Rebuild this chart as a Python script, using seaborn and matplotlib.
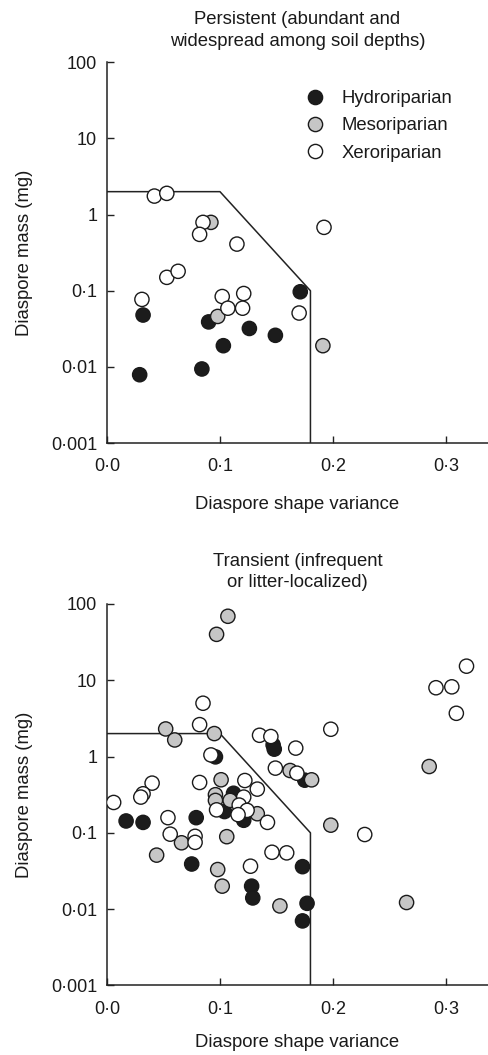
import pandas as pd
import seaborn as sns
import matplotlib.pyplot as plt
from matplotlib.ticker import FixedLocator, FuncFormatter

# Persistent seed bank (top panel)
pers_hydro_x = [0.029, 0.032, 0.084, 0.090, 0.103, 0.126, 0.149, 0.171]
pers_hydro_y = [0.0079, 0.048, 0.0094, 0.039, 0.019, 0.032, 0.026, 0.097]
pers_meso_x = [0.092, 0.098, 0.191]
pers_meso_y = [0.79, 0.046, 0.019]
pers_xero_x = [0.042, 0.053, 0.085, 0.082, 0.115, 0.192, 0.053, 0.063,
               0.031, 0.102, 0.107, 0.121, 0.120, 0.170]
pers_xero_y = [1.75, 1.9, 0.79, 0.55, 0.41, 0.68, 0.15, 0.18,
               0.077, 0.084, 0.059, 0.092, 0.059, 0.051]

# Transient seed bank (bottom panel)
tran_hydro_x = [0.017, 0.032, 0.079, 0.075, 0.096, 0.112, 0.104, 0.121,
                0.147, 0.148, 0.175, 0.128, 0.129, 0.173, 0.177, 0.173]
tran_hydro_y = [0.143, 0.137, 0.158, 0.039, 0.99, 0.33, 0.19, 0.146,
                1.42, 1.25, 0.49, 0.020, 0.014, 0.036, 0.0119, 0.0070]
tran_meso_x = [0.107, 0.097, 0.052, 0.060, 0.095, 0.101, 0.096, 0.096,
               0.109, 0.133, 0.162, 0.181, 0.106, 0.066, 0.044, 0.098,
               0.102, 0.153, 0.198, 0.285, 0.265]
tran_meso_y = [69, 40, 2.3, 1.65, 2.0, 0.496, 0.316, 0.266,
               0.266, 0.178, 0.656, 0.495, 0.089, 0.074, 0.051, 0.033,
               0.020, 0.011, 0.126, 0.74, 0.0122]
tran_xero_x = [0.006, 0.085, 0.082, 0.092, 0.135, 0.145, 0.167, 0.198,
               0.149, 0.168, 0.040, 0.032, 0.030, 0.082, 0.122, 0.133,
               0.121, 0.117, 0.097, 0.124, 0.116, 0.142, 0.054, 0.056,
               0.078, 0.078, 0.146, 0.159, 0.127, 0.228, 0.291, 0.305,
               0.309, 0.318]
tran_xero_y = [0.25, 5.0, 2.62, 1.05, 1.9, 1.83, 1.29, 2.28,
               0.705, 0.605, 0.448, 0.325, 0.294, 0.457, 0.485, 0.374,
               0.294, 0.231, 0.20, 0.197, 0.173, 0.137, 0.158, 0.096,
               0.09, 0.075, 0.0556, 0.0546, 0.0365, 0.095, 7.98, 8.2,
               3.69, 15.3]

# boundary drawn in both panels
boundary_x = [0.0, 0.1, 0.18, 0.18]
boundary_y = [2.0, 2.0, 0.1, 0.001]

groups = ['Hydroriparian', 'Mesoriparian', 'Xeroriparian']
colors = {'Hydroriparian': '#1c1c1c', 'Mesoriparian': '#c6c6c6',
          'Xeroriparian': 'white'}


def make_df(hx, hy, mx, my, xx, xy):
    parts = []
    for g, x, y in zip(groups, [hx, mx, xx], [hy, my, xy]):
        parts.append(pd.DataFrame({'x': x, 'y': y, 'group': g}))
    return pd.concat(parts, ignore_index=True)


pers = make_df(pers_hydro_x, pers_hydro_y, pers_meso_x, pers_meso_y,
               pers_xero_x, pers_xero_y)
tran = make_df(tran_hydro_x, tran_hydro_y, tran_meso_x, tran_meso_y,
               tran_xero_x, tran_xero_y)

sns.set_style('ticks')
plt.rcParams['font.family'] = ['Liberation Sans', 'DejaVu Sans']
plt.rcParams['text.color'] = '#1a1a1a'
plt.rcParams['axes.labelcolor'] = '#1a1a1a'

fig = plt.figure(figsize=(4.88, 10.55), dpi=100)
ax1 = fig.add_axes([0.219, 0.580, 0.781, 0.361])
ax2 = fig.add_axes([0.219, 0.066, 0.781, 0.3615])

fs = 13.3


def dot(v, p):
    if v >= 1:
        return '%g' % v
    return ('%.3f' % v).rstrip('0').replace('.', '\u00b7')


titles = ['Persistent (abundant and\nwidespread among soil depths)',
          'Transient (infrequent\nor litter-localized)']

for ax, df, title, leg, lp in [(ax1, pers, titles[0], True, 15),
                               (ax2, tran, titles[1], False, 12)]:
    ax.plot(boundary_x, boundary_y, color='#222222', lw=1.1, zorder=1)
    sns.scatterplot(data=df, x='x', y='y', hue='group', palette=colors,
                    hue_order=groups, s=105, edgecolor='#1a1a1a',
                    linewidth=1.0, legend=leg, ax=ax, zorder=3)
    ax.set_yscale('log')
    ax.set_xlim(0, 0.337)
    ax.set_ylim(0.001, 100)
    ax.yaxis.set_major_locator(FixedLocator([0.001, 0.01, 0.1, 1, 10, 100]))
    ax.yaxis.set_minor_locator(FixedLocator([]))
    ax.yaxis.set_major_formatter(FuncFormatter(dot))
    ax.xaxis.set_major_locator(FixedLocator([0.0, 0.1, 0.2, 0.3]))
    ax.xaxis.set_major_formatter(FuncFormatter(lambda v, p: ('%.1f' % v).replace('.', '\u00b7')))
    ax.tick_params(direction='in', length=5, width=1.0, labelsize=13,
                   color='#222222', labelcolor='#1a1a1a')
    ax.tick_params(axis='x', pad=11)
    ax.tick_params(axis='y', pad=7)
    for side in ['top', 'right']:
        ax.spines[side].set_visible(False)
    for side in ['left', 'bottom']:
        ax.spines[side].set_linewidth(1.1)
        ax.spines[side].set_color('#222222')
    ax.set_xlabel('Diaspore shape variance', labelpad=lp, fontsize=fs)
    ax.set_ylabel('Diaspore mass (mg)', labelpad=13, fontsize=fs)
    ax.set_title(title, fontsize=fs, pad=12, linespacing=1.35)

sns.move_legend(ax1, 'upper left', bbox_to_anchor=(0.455, 0.97), frameon=False,
                title=None, fontsize=fs, handletextpad=0.4, labelspacing=0.55,
                markerscale=1.0)

fig.savefig('out.png', dpi=100, facecolor='white')
